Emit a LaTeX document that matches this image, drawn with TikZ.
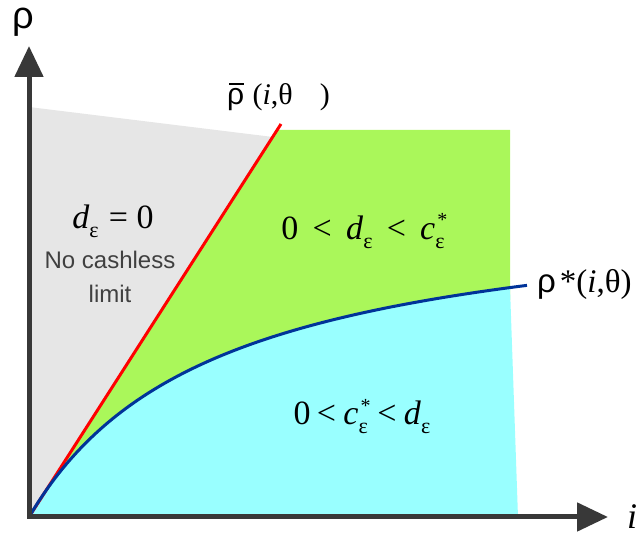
\documentclass[tikz,border=0pt]{standalone}
\usepackage{fontspec}
\setmainfont{Liberation Serif}
\newfontfamily\sansf{Liberation Sans}
\usetikzlibrary{arrows.meta}
\definecolor{grayreg}{HTML}{E6E6E6}
\definecolor{greenreg}{HTML}{AAF75A}
\definecolor{cyanreg}{HTML}{99FFFF}
\definecolor{axisc}{HTML}{383838}
\definecolor{bluec}{HTML}{003399}
\definecolor{txtgray}{HTML}{404040}
\newcommand{\sbe}{\raisebox{-9pt}{\fontsize{22}{22}\selectfont ε}}
\newcommand{\cst}{\textit{c}\rlap{\raisebox{13pt}{\fontsize{20}{20}\selectfont\hspace{2pt}*}}\raisebox{-9pt}{\fontsize{22}{22}\selectfont ε}}
\newcommand{\rhos}{{\sansf ρ}}
\begin{document}
\begin{tikzpicture}[x=1pt,y=-1pt,
  lbl/.style={inner sep=0pt, font=\fontsize{34}{38}\selectfont},
  sanslbl/.style={inner sep=0pt, font=\sansf\fontsize{24}{28}\selectfont, text=txtgray},
  axisline/.style={line width=5pt, draw=axisc, line join=miter,
     {Triangle[length=31pt,width=28pt,fill=axisc]}-{Triangle[length=31pt,width=28pt,fill=axisc]}}
]
\useasboundingbox (0,0) rectangle (641,540);
\coordinate (o) at (29,517);
\coordinate (ytip) at (29,46);
\coordinate (xtip) at (608,517);
\coordinate (rtop) at (281,124);
\coordinate (cend) at (527,286);
% regions
\fill[grayreg] (o) -- (29,107) -- (273,137) -- cycle;
\fill[greenreg] (o) -- (278,130) -- (510,130) -- (510,300) -- cycle;
\fill[cyanreg] plot[domain=0:481, samples=120] ({29+\x},{517-319*(\x/(\x+187.8))}) -- (518,517) -- cycle;
% curves
\draw[red, line width=3pt] (o) -- (rtop);
\draw[bluec, line width=3pt] plot[domain=0:498, samples=120] ({29+\x},{517-319*(\x/(\x+187.8))});
% axes
\draw[axisline] (ytip) -- (o) -- (xtip);
% labels
\node[inner sep=0pt, anchor=base west, font=\sansf\fontsize{38}{40}\selectfont] (rholab) at (12,29) {ρ};
\node[inner sep=0pt, anchor=base west, font=\fontsize{36}{40}\selectfont\itshape] (ilab) at (627,529) {i};
\node[lbl, anchor=base west, font=\fontsize{30}{34}\selectfont] (rhobar) at (227,105) {\rlap{\hspace{0.06em}\raisebox{0.66em}{\rule{0.5em}{0.07em}}}\rhos\hspace{0.28em}(\textit{i},θ\hspace{0.9em})};
\node[lbl, anchor=base west, font=\fontsize{33}{36}\selectfont] (rhostar) at (537,293) {\rhos\hspace{0.12em}*(\textit{i},θ)};
\node[lbl, anchor=base] (deps) at (113,229) {\textit{d}\sbe\hspace{0.3em}= 0};
\node[sanslbl, anchor=base] (nocash) at (110,269) {No cashless};
\node[sanslbl, anchor=base] (limit) at (110,303) {limit};
\node[lbl, anchor=base] (greenlab) at (363,240) {0\hspace{0.42em}<\hspace{0.42em}\textit{d}\sbe\hspace{0.42em}<\hspace{0.42em}\cst};
\node[lbl, anchor=base] (cyanlab) at (362,425) {0\hspace{0.18em}<\hspace{0.22em}\cst\hspace{0.28em}<\hspace{0.22em}\textit{d}\sbe};
\end{tikzpicture}
\end{document}
